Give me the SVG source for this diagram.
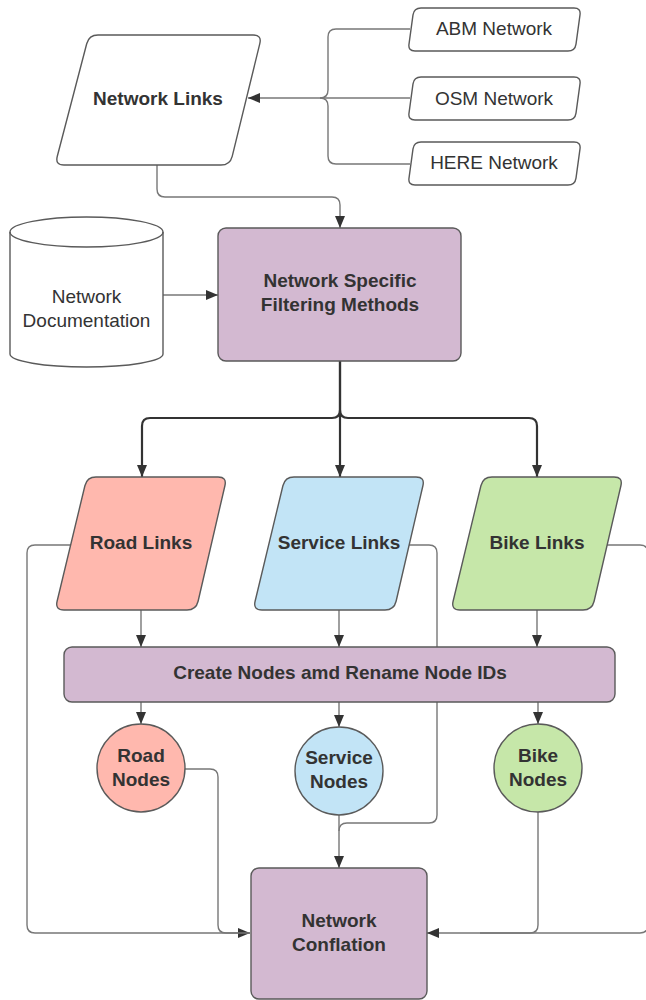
<svg xmlns="http://www.w3.org/2000/svg" width="646" height="1000" viewBox="0 0 646 1000">
<defs>
<style>
.shape{stroke:#5a5a5a;stroke-width:1.4}
.proc{fill:#d3b9d1}
.road{fill:#ffb8ae}
.serv{fill:#c2e4f6}
.bike{fill:#c6e7a9}
.wht{fill:#ffffff}
.t{font-family:"Liberation Sans",Arial,sans-serif;font-size:19px;fill:#333333;text-anchor:middle}
.b{font-weight:bold}
.c{fill:none;stroke:#777777;stroke-width:1.4}
.ct{fill:none;stroke:#333333;stroke-width:2.2}
</style>
<marker id="ah" viewBox="0 0 12 10" refX="12" refY="5" markerWidth="12" markerHeight="10" markerUnits="userSpaceOnUse" orient="auto">
<path d="M0,0 L12,5 L0,10 Z" fill="#333333"/>
</marker>
<path id="para" d="M41,0 L163,0 Q172,0 169.9,8.75 L143.1,124.25 Q141,133 132,133 L9,133 Q0,133 2.1,124.25 L29.9,8.75 Q32,0 41,0 Z"/>
<path id="src" d="M13,0 L166,0 Q173,0 172,6.9 L168,36.1 Q167,43 160,43 L7,43 Q0,43 1,36.1 L5,6.9 Q6,0 13,0 Z"/>
</defs>

<g id="connectors">
<path class="c" d="M410,29 L336,29 Q328,29 328,37 L328,90 Q328,98 320,98"/>
<path class="c" d="M410,164 L336,164 Q328,164 328,156 L328,106 Q328,98 320,98"/>
<path class="c" d="M410,98 L248,98" stroke="#444" marker-end="url(#ah)"/>
<path class="c" d="M157,165 L157,189 Q157,197 165,197 L332,197 Q340,197 340,205 L340,228" marker-end="url(#ah)"/>
<path class="c" d="M163,295 L218,295" marker-end="url(#ah)"/>
<path class="ct" d="M340,361 L340,477" marker-end="url(#ah)"/>
<path class="ct" d="M340,361 L340,410 Q340,418 332,418 L150,418 Q142,418 142,426 L142,477" marker-end="url(#ah)"/>
<path class="ct" d="M340,410 Q340,418 348,418 L529,418 Q537,418 537,426 L537,477" marker-end="url(#ah)"/>
<path class="c" d="M141,610 L141,647" marker-end="url(#ah)"/>
<path class="c" d="M339,610 L339,647" marker-end="url(#ah)"/>
<path class="c" d="M537,610 L537,647" marker-end="url(#ah)"/>
<path class="c" d="M141,702 L141,724" marker-end="url(#ah)"/>
<path class="c" d="M339,702 L339,727" marker-end="url(#ah)"/>
<path class="c" d="M538,702 L538,724" marker-end="url(#ah)"/>
<path class="c" d="M71,545 L35,545 Q27,545 27,553 L27,925 Q27,933 35,933 L250,933" marker-end="url(#ah)"/>
<path class="c" d="M185,769 L210,769 Q218,769 218,777 L218,925 Q218,933 226,933 L250,933"/>
<path class="c" d="M409,545 L429,545 Q437,545 437,553 L437,815 Q437,823 429,823 L347,823 Q339,823 339,831 L339,868" marker-end="url(#ah)"/>
<path class="c" d="M339,815 L339,831"/>
<path class="c" d="M607,545 L640,545 Q648,545 648,553 L648,925 Q648,933 640,933 L427,933" marker-end="url(#ah)"/>
<path class="c" d="M538,812 L538,925 Q538,933 530,933 L480,933"/>
</g>

<g id="network-links">
<path class="shape wht" d="M98,35 L253,35 Q262,35 259.8,43.7 L232.2,156.3 Q230,165 221,165 L64,165 Q55,165 57.3,156.3 L86.7,43.7 Q89,35 98,35 Z"/>
<text class="t b" x="158" y="105">Network Links</text>
</g>

<g id="abm-network">
<use href="#src" class="shape wht" transform="translate(408,8)"/>
<text class="t" x="494" y="35">ABM Network</text>
</g>
<g id="osm-network">
<use href="#src" class="shape wht" transform="translate(408,77)"/>
<text class="t" x="494" y="105">OSM Network</text>
</g>
<g id="here-network">
<use href="#src" class="shape wht" transform="translate(408,142)"/>
<text class="t" x="494" y="169">HERE Network</text>
</g>

<g id="network-documentation">
<path class="shape wht" d="M10,232 A76.5,15 0 0 1 163,232 L163,354 A76.5,13 0 0 1 10,354 Z"/>
<path class="shape" fill="none" d="M10,232 A76.5,15 0 0 0 163,232"/>
<text class="t" x="86.5" y="303">Network</text>
<text class="t" x="86.5" y="327">Documentation</text>
</g>

<g id="filtering-methods">
<rect class="shape proc" x="218" y="228" width="243" height="133" rx="8"/>
<text class="t b" x="340" y="287">Network Specific</text>
<text class="t b" x="340" y="311">Filtering Methods</text>
</g>

<g id="road-links">
<use href="#para" class="shape road" transform="translate(55,477)"/>
<text class="t b" x="141" y="549">Road Links</text>
</g>
<g id="service-links">
<use href="#para" class="shape serv" transform="translate(253,477)"/>
<text class="t b" x="339" y="549">Service Links</text>
</g>
<g id="bike-links">
<use href="#para" class="shape bike" transform="translate(451,477)"/>
<text class="t b" x="537" y="549">Bike Links</text>
</g>

<g id="create-nodes">
<rect class="shape proc" x="64" y="647" width="551" height="55" rx="8"/>
<text class="t b" x="340" y="679">Create Nodes amd Rename Node IDs</text>
</g>

<g id="road-nodes">
<circle class="shape road" cx="141" cy="768" r="44"/>
<text class="t b" x="141" y="762">Road</text>
<text class="t b" x="141" y="786">Nodes</text>
</g>
<g id="service-nodes">
<circle class="shape serv" cx="339" cy="771" r="44"/>
<text class="t b" x="339" y="764">Service</text>
<text class="t b" x="339" y="788">Nodes</text>
</g>
<g id="bike-nodes">
<circle class="shape bike" cx="538" cy="768" r="44"/>
<text class="t b" x="538" y="762">Bike</text>
<text class="t b" x="538" y="786">Nodes</text>
</g>

<g id="network-conflation">
<rect class="shape proc" x="251" y="868" width="176" height="131" rx="8"/>
<text class="t b" x="339" y="927">Network</text>
<text class="t b" x="339" y="951">Conflation</text>
</g>
</svg>
